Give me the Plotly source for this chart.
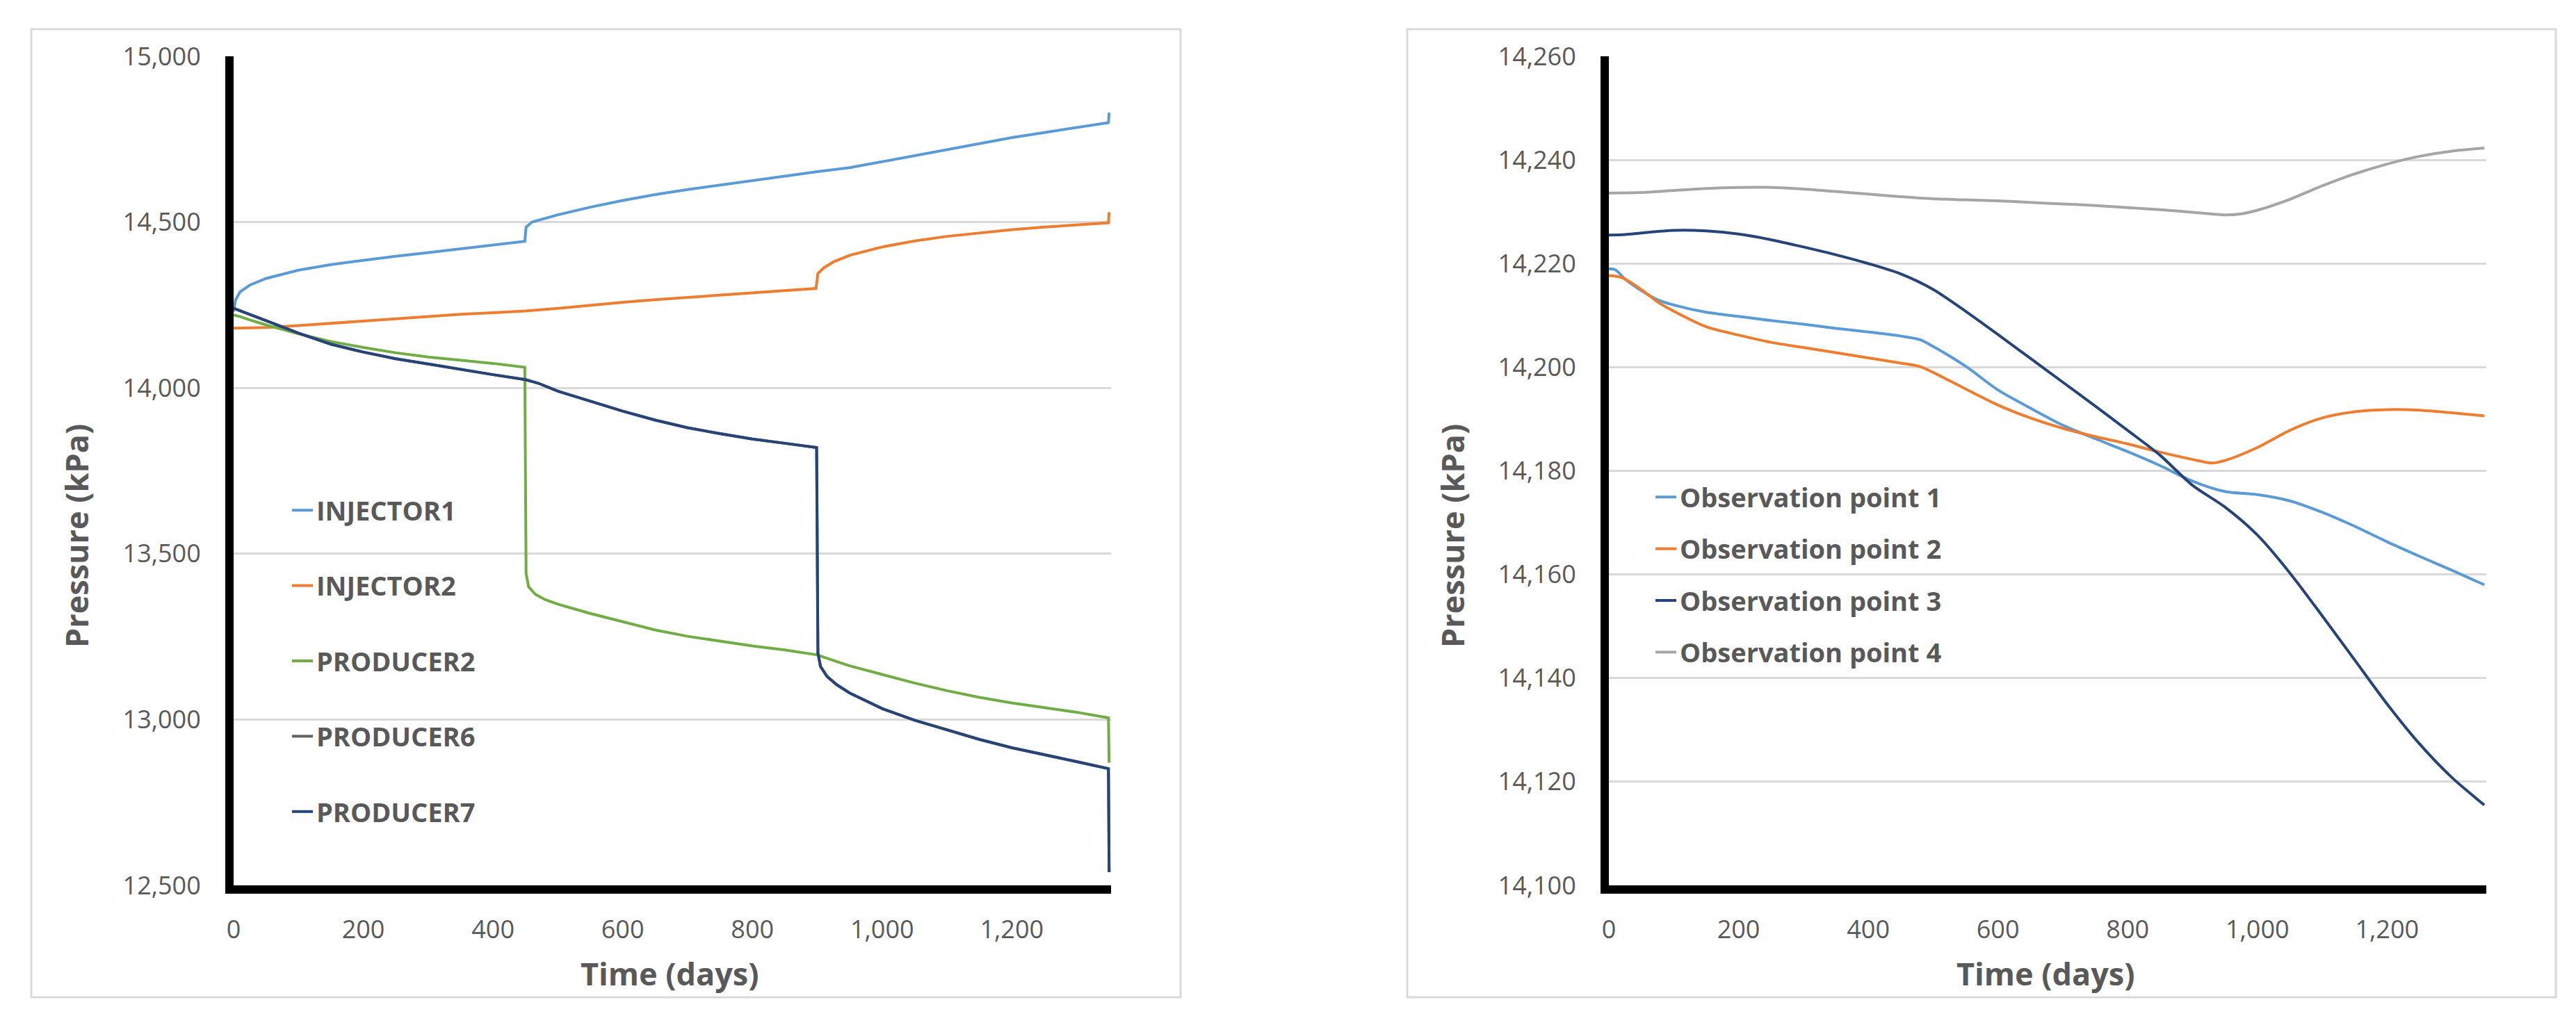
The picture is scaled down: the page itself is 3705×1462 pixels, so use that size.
import plotly.graph_objects as go

# ---------------- data: left chart (well pressures) ----------------
injector1_t = [0, 3, 10, 25, 50, 100, 150, 200, 250, 300, 350, 400, 449, 451, 460, 500, 550, 600, 650, 700,
               750, 800, 850, 900, 950, 1000, 1050, 1100, 1150, 1200, 1250, 1300, 1349, 1350]
injector1_p = [14230, 14265, 14290, 14310, 14330, 14355, 14372, 14385, 14397, 14408, 14420, 14430, 14442, 14485,
               14500, 14522, 14545, 14565, 14583, 14598, 14612, 14625, 14638, 14652, 14664, 14682, 14700, 14720,
               14737, 14755, 14770, 14785, 14800, 14830]

injector2_t = [0, 25, 50, 100, 150, 200, 250, 300, 350, 400, 450, 500, 550, 600, 650, 700, 750, 800, 850, 898,
               901, 910, 925, 950, 1000, 1050, 1100, 1150, 1200, 1250, 1300, 1349, 1350]
injector2_p = [14180, 14180, 14182, 14188, 14195, 14203, 14210, 14216, 14222, 14227, 14232, 14240, 14250, 14258,
               14266, 14273, 14280, 14287, 14294, 14300, 14345, 14362, 14380, 14400, 14425, 14443, 14457, 14468,
               14477, 14485, 14492, 14498, 14530]

producer2_t = [0, 10, 25, 50, 100, 150, 200, 250, 300, 350, 400, 449, 451, 455, 465, 480, 500, 550, 600, 650,
               700, 750, 800, 850, 900, 925, 950, 1000, 1050, 1100, 1150, 1200, 1250, 1300, 1349, 1350]
producer2_p = [14220, 14215, 14205, 14190, 14163, 14140, 14122, 14106, 14093, 14083, 14074, 14062, 13440, 13400,
               13378, 13362, 13348, 13320, 13295, 13270, 13251, 13236, 13222, 13210, 13195, 13178, 13162, 13136,
               13110, 13087, 13067, 13050, 13035, 13022, 13005, 12870]

producer7_t = [0, 10, 25, 50, 100, 150, 200, 250, 300, 350, 400, 450, 470, 500, 550, 600, 650, 700, 750, 800,
               850, 899, 901, 905, 915, 930, 950, 1000, 1050, 1100, 1150, 1200, 1250, 1300, 1349, 1350]
producer7_p = [14240, 14233, 14222, 14203, 14165, 14132, 14108, 14088, 14072, 14055, 14040, 14025, 14014, 13990,
               13960, 13930, 13903, 13880, 13862, 13846, 13833, 13820, 13200, 13160, 13130, 13105, 13080, 13033,
               12998, 12968, 12940, 12915, 12893, 12873, 12852, 12540]

# PRODUCER6 is hidden under PRODUCER7 in the picture (same trajectory)
producer6_t = producer7_t
producer6_p = producer7_p

well_names = ["INJECTOR1", "INJECTOR2", "PRODUCER2", "PRODUCER6", "PRODUCER7"]
well_t = [injector1_t, injector2_t, producer2_t, producer6_t, producer7_t]
well_p = [injector1_p, injector2_p, producer2_p, producer6_p, producer7_p]
well_colors = ["#5B9BD5", "#ED7D31", "#70AD47", "#636363", "#264478"]

# ---------------- data: right chart (observation points) ----------------
obs1_t = [0, 10, 25, 50, 75, 100, 150, 200, 250, 300, 350, 400, 450, 480, 500, 550, 600, 650, 700, 750, 800,
          850, 900, 950, 1000, 1050, 1100, 1150, 1200, 1250, 1300, 1350]
obs1_p = [14219.0, 14218.8, 14217.0, 14214.8, 14213.0, 14212.0, 14210.6, 14209.8, 14209.0, 14208.3, 14207.5,
          14206.8, 14206.0, 14205.3, 14204.0, 14200.2, 14195.6, 14192.1, 14188.8, 14186.2, 14183.7, 14181.0,
          14178.0, 14176.0, 14175.4, 14174.2, 14172.0, 14169.3, 14166.3, 14163.5, 14160.8, 14158.0]

obs2_t = [0, 20, 50, 75, 100, 150, 200, 250, 300, 350, 400, 450, 480, 500, 550, 600, 650, 700, 750, 800, 850,
          900, 930, 950, 1000, 1050, 1100, 1150, 1200, 1250, 1300, 1350]
obs2_p = [14217.7, 14217.3, 14215.0, 14212.6, 14210.8, 14207.8, 14206.2, 14204.8, 14203.8, 14202.8, 14201.8,
          14200.8, 14200.1, 14199.0, 14195.8, 14192.7, 14190.2, 14188.2, 14186.6, 14185.2, 14183.6, 14182.2,
          14181.5, 14182.0, 14184.5, 14187.8, 14190.2, 14191.4, 14191.8, 14191.7, 14191.2, 14190.6]

obs3_t = [0, 25, 50, 100, 150, 200, 250, 300, 350, 400, 450, 500, 550, 600, 650, 700, 750, 800, 850, 900, 950,
          1000, 1050, 1100, 1150, 1200, 1250, 1300, 1350]
obs3_p = [14225.5, 14225.6, 14225.9, 14226.4, 14226.3, 14225.7, 14224.6, 14223.2, 14221.7, 14220.0, 14218.0,
          14215.0, 14210.8, 14206.3, 14201.7, 14197.1, 14192.5, 14187.8, 14183.0, 14177.2, 14173.0, 14167.6,
          14160.3, 14152.0, 14143.5, 14135.0, 14127.3, 14120.8, 14115.5]

obs4_t = [0, 50, 100, 150, 200, 250, 300, 350, 400, 450, 500, 550, 600, 650, 700, 750, 800, 850, 900, 950, 975,
          1000, 1050, 1100, 1150, 1200, 1250, 1300, 1350]
obs4_p = [14233.6, 14233.7, 14234.1, 14234.5, 14234.7, 14234.7, 14234.4, 14233.9, 14233.4, 14232.9, 14232.5,
          14232.3, 14232.1, 14231.8, 14231.5, 14231.2, 14230.8, 14230.4, 14229.9, 14229.4, 14229.6, 14230.3,
          14232.4, 14235.0, 14237.3, 14239.2, 14240.7, 14241.7, 14242.3]

obs_names = ["Observation point 1", "Observation point 2", "Observation point 3", "Observation point 4"]
obs_t = [obs1_t, obs2_t, obs3_t, obs4_t]
obs_p = [obs1_p, obs2_p, obs3_p, obs4_p]
obs_colors = ["#5B9BD5", "#ED7D31", "#264478", "#A5A5A5"]

x_ticks = [0, 200, 400, 600, 800, 1000, 1200]
left_y_ticks = [12500, 13000, 13500, 14000, 14500, 15000]
right_y_ticks = [14100, 14120, 14140, 14160, 14180, 14200, 14220, 14240, 14260]

# ---------------- figure ----------------
W, H = 3705, 1462
TXT = "#595959"
GRID = "#D9D9D9"
FONT = "Open Sans"


def px_x(v):
    return v / W


def px_y(v):
    return 1 - v / H


fig = go.Figure()

for name, t, p, c in zip(well_names, well_t, well_p, well_colors):
    fig.add_trace(go.Scatter(x=t, y=p, mode="lines", name=name, line=dict(color=c, width=4),
                             xaxis="x", yaxis="y", legend="legend", legendgroup=name))

for name, t, p, c in zip(obs_names, obs_t, obs_p, obs_colors):
    fig.add_trace(go.Scatter(x=t, y=p, mode="lines", name=name,
                             line=dict(color=c, width=4, shape="spline", smoothing=0.8),
                             xaxis="x2", yaxis="y2", legend="legend2", legendgroup=name))

tickfont = dict(family=FONT, size=36, color=TXT)

common_x = dict(range=[0, 1353], tickvals=x_ticks, tickformat=",", showgrid=False, zeroline=False,
                showline=True, linecolor="black", linewidth=12, ticks="outside", ticklen=21,
                tickcolor="rgba(0,0,0,0)", tickfont=tickfont)
common_y = dict(tickformat=",", showgrid=True, gridcolor=GRID, gridwidth=3, zeroline=False,
                showline=True, linecolor="black", linewidth=12, ticks="outside", ticklen=28,
                tickcolor="rgba(0,0,0,0)", tickfont=tickfont)

y_dom = [px_y(1266), px_y(73)]
legend_font = dict(family=FONT, size=38, color=TXT, weight="bold")

fig.update_layout(
    width=W, height=H, template="none",
    paper_bgcolor="white", plot_bgcolor="white",
    margin=dict(l=0, r=0, t=0, b=0),
    showlegend=True,
    xaxis=dict(domain=[px_x(328), px_x(1590)], anchor="y", **common_x),
    yaxis=dict(domain=y_dom, anchor="x", range=[12500, 15000], tickvals=left_y_ticks, **common_y),
    xaxis2=dict(domain=[px_x(2306), px_x(3568)], anchor="y2", **common_x),
    yaxis2=dict(domain=y_dom, anchor="x2", range=[14100, 14260], tickvals=right_y_ticks, **common_y),
    legend=dict(x=px_x(407), y=px_y(695), xanchor="left", yanchor="top", bgcolor="rgba(0,0,0,0)",
                traceorder="grouped", tracegroupgap=56, font=legend_font),
    legend2=dict(x=px_x(2368), y=px_y(676), xanchor="left", yanchor="top", bgcolor="rgba(0,0,0,0)",
                 traceorder="grouped", tracegroupgap=22, font=legend_font),
)

# chart frames
for x0, x1 in [(37, 1690), (2016, 3668)]:
    fig.add_shape(type="rect", xref="paper", yref="paper", x0=px_x(x0), x1=px_x(x1),
                  y0=px_y(1427), y1=px_y(34), line=dict(color=GRID, width=3), fillcolor="rgba(0,0,0,0)",
                  layer="below")

# axis titles
title_font = dict(family=FONT, size=45, color=TXT)
for xc in [955, 2934]:
    fig.add_annotation(text="<b>Time (days)</b>", xref="paper", yref="paper", x=px_x(xc), y=px_y(1392),
                       xanchor="center", yanchor="middle", showarrow=False, font=title_font)
for xc in [101, 2080]:
    fig.add_annotation(text="<b>Pressure (kPa)</b>", xref="paper", yref="paper", x=px_x(xc), y=px_y(763),
                       xanchor="center", yanchor="middle", textangle=-90, showarrow=False, font=title_font)

fig.write_html("out.html")
